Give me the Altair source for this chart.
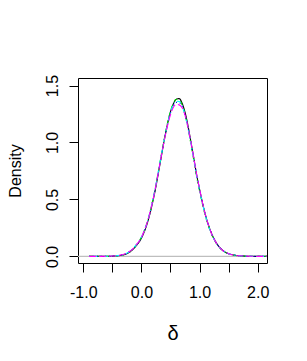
import altair as alt
import pandas as pd

x_vals = [-0.9, -0.8, -0.7, -0.6, -0.5, -0.4, -0.3, -0.2, -0.1, 0.0, 0.1, 0.2,
          0.25, 0.3, 0.35, 0.4, 0.45, 0.5, 0.55, 0.6, 0.65, 0.7, 0.75, 0.8,
          0.85, 0.9, 0.95, 1.0, 1.1, 1.2, 1.3, 1.4, 1.5, 1.6, 1.7, 1.8, 1.9,
          2.0, 2.1, 2.16]

dens_black = [0, 0, 0, 0.001, 0.002, 0.006, 0.015, 0.038, 0.088, 0.160, 0.290, 0.490,
              0.615, 0.755, 0.900, 1.040, 1.165, 1.270, 1.340, 1.380, 1.385, 1.345,
              1.265, 1.150, 1.010, 0.865, 0.715, 0.590, 0.365, 0.210, 0.110, 0.052,
              0.024, 0.011, 0.005, 0.002, 0.001, 0, 0, 0]
dens_green = [0, 0, 0, 0.001, 0.003, 0.007, 0.017, 0.042, 0.093, 0.168, 0.300, 0.505,
              0.630, 0.770, 0.915, 1.050, 1.175, 1.275, 1.345, 1.378, 1.375, 1.330,
              1.245, 1.130, 0.990, 0.845, 0.700, 0.575, 0.355, 0.202, 0.105, 0.050,
              0.023, 0.010, 0.004, 0.002, 0.001, 0, 0, 0]
dens_blue = [0, 0, 0, 0.001, 0.003, 0.008, 0.018, 0.043, 0.092, 0.165, 0.295, 0.500,
             0.625, 0.765, 0.905, 1.040, 1.160, 1.260, 1.325, 1.352, 1.350, 1.315,
             1.240, 1.130, 1.000, 0.860, 0.715, 0.590, 0.365, 0.208, 0.108, 0.052,
             0.024, 0.011, 0.005, 0.002, 0.001, 0, 0, 0]
dens_cyan = [0, 0, 0, 0.001, 0.003, 0.008, 0.018, 0.044, 0.095, 0.170, 0.302, 0.505,
             0.630, 0.770, 0.912, 1.045, 1.165, 1.265, 1.335, 1.362, 1.360, 1.320,
             1.240, 1.128, 0.995, 0.855, 0.710, 0.585, 0.360, 0.205, 0.106, 0.051,
             0.024, 0.011, 0.005, 0.002, 0.001, 0, 0, 0]
dens_magenta = [0, 0, 0, 0.001, 0.003, 0.008, 0.019, 0.045, 0.095, 0.168, 0.298, 0.500,
                0.625, 0.765, 0.905, 1.035, 1.150, 1.245, 1.310, 1.335, 1.330, 1.305,
                1.240, 1.135, 1.005, 0.865, 0.720, 0.592, 0.365, 0.208, 0.108, 0.052,
                0.024, 0.011, 0.005, 0.002, 0.001, 0, 0, 0]

series_names = ["black", "green", "blue", "cyan", "magenta"]
series_colors = ["#000000", "#00CD00", "#0000FF", "#00FFFF", "#FF00FF"]
series_dash = [[1, 0], [4, 4], [1, 3], [1, 3, 4, 3], [7, 3]]
series_data = [dens_black, dens_green, dens_blue, dens_cyan, dens_magenta]

x_ticks = [-1.0, -0.5, 0.0, 0.5, 1.0, 1.5, 2.0]
y_ticks = [0.0, 0.5, 1.0, 1.5]

FONT = "Liberation Sans"
FS = 16
W, H = 189, 185
xscale = alt.Scale(domain=[-1.091, 2.16], nice=False, zero=False)
yscale = alt.Scale(domain=[-0.058, 1.566], nice=False, zero=False)

xaxis = alt.Axis(values=x_ticks, title="δ", domain=False, grid=False,
                 tickColor="black", tickSize=9, labelColor="black",
                 labelFont=FONT, labelFontSize=FS, labelPadding=12,
                 labelExpr="datum.value % 1 == 0 ? (datum.value < 0 ? '-' + format(-datum.value, '.1f') : format(datum.value, '.1f')) : ''",
                 labelOverlap=False, labelFlush=False,
                 titleFont=FONT, titleFontSize=20, titleFontWeight="normal",
                 titleColor="black", titleX=W / 2, titleY=76,
                 titleAlign="center", titleBaseline="alphabetic")
yaxis = alt.Axis(values=y_ticks, title="Density", domain=False, grid=False,
                 tickColor="black", tickSize=9, labelColor="black",
                 labelFont=FONT, labelFontSize=FS, labelPadding=9, labelAngle=-90,
                 labelExpr="format(datum.value, '.1f')",
                 labelOverlap=False, labelFlush=False,
                 titleFont=FONT, titleFontSize=FS, titleFontWeight="normal",
                 titleColor="black", titleX=-58, titleY=H / 2, titleAngle=-90,
                 titleAlign="center", titleBaseline="alphabetic")

base_rule = alt.Chart(pd.DataFrame({"y": [0.0]})).mark_rule(
    color="#BEBEBE", strokeWidth=1.3
).encode(
    y=alt.Y("y:Q", scale=yscale, axis=yaxis)
)

layers = [base_rule]
for name, col, dash, vals in zip(series_names, series_colors, series_dash, series_data):
    df = pd.DataFrame({"x": x_vals, "d": vals})
    layers.append(
        alt.Chart(df).mark_line(color=col, strokeDash=dash, strokeWidth=1.1,
                                clip=True, interpolate="monotone").encode(
            x=alt.X("x:Q", scale=xscale, axis=xaxis),
            y=alt.Y("d:Q", scale=yscale, axis=yaxis),
        )
    )

chart = alt.layer(*layers).properties(
    width=W, height=H,
    autosize=alt.AutoSizeParams(type="none"),
    padding={"left": 70, "top": 70, "right": 20, "bottom": 80},
    background="white",
).configure_view(stroke="black", strokeWidth=1)

chart.save("out.html", embed_options={"renderer": "svg", "actions": False})
